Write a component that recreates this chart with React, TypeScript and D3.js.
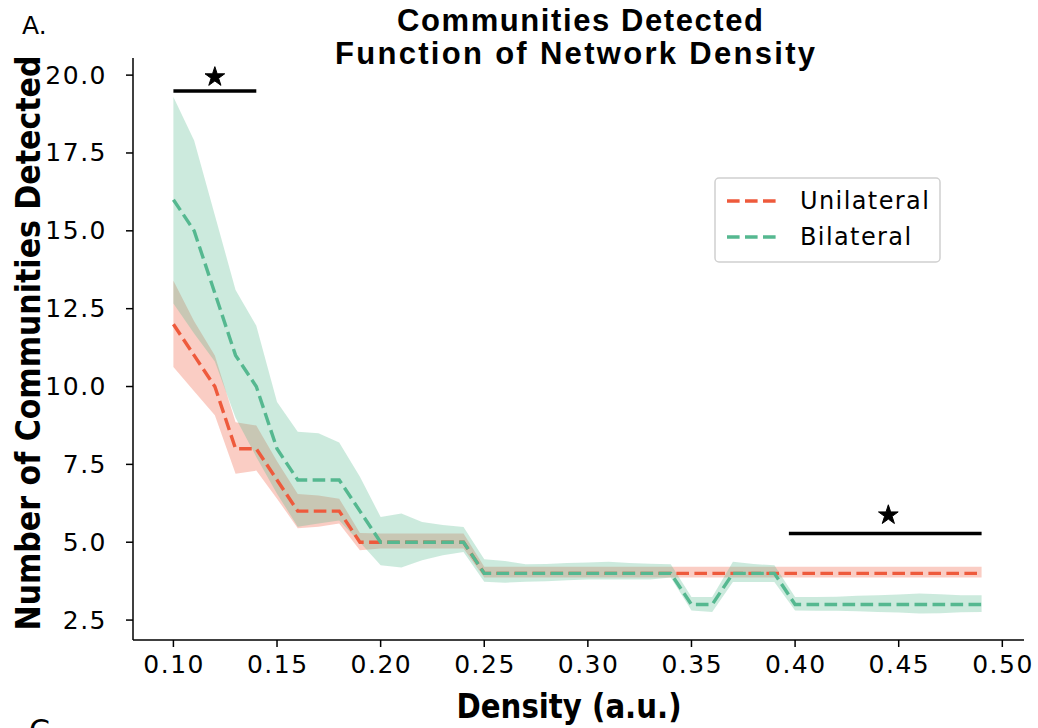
import React from "react";
import * as d3 from "d3";

const density = [0.10,0.11,0.12,0.13,0.14,0.15,0.16,0.17,0.18,0.19,0.20,0.21,0.22,0.23,0.24,0.25,0.26,0.27,0.28,0.29,0.30,0.31,0.32,0.33,0.34,0.35,0.36,0.37,0.38,0.39,0.40,0.41,0.42,0.43,0.44,0.45,0.46,0.47,0.48,0.49];

const uniMean = [12,11,10,8,8,7,6,6,6,5,5,5,5,5,5,4,4,4,4,4,4,4,4,4,4,4,4,4,4,4,4,4,4,4,4,4,4,4,4,4];
const uniUpper = [13.4,12.1,11.0,8.85,8.75,7.6,6.55,6.5,6.4,5.3,5.28,5.28,5.28,5.28,5.28,4.21,4.21,4.21,4.21,4.21,4.21,4.21,4.21,4.21,4.21,4.21,4.21,4.21,4.21,4.21,4.21,4.21,4.21,4.21,4.21,4.21,4.21,4.21,4.21,4.21];
const uniLower = [10.63,9.85,9.08,7.2,7.3,6.4,5.45,5.5,5.6,4.74,4.8,4.8,4.8,4.8,4.8,3.87,3.87,3.87,3.87,3.87,3.87,3.87,3.87,3.87,3.87,3.87,3.87,3.87,3.87,3.87,3.87,3.87,3.87,3.87,3.87,3.87,3.87,3.87,3.87,3.87];

const biMean = [16,15,13,11,10,8,7,7,7,6,5,5,5,5,5,4,4,4,4,4,4,4,4,4,4,3,3,4,4,4,3,3,3,3,3,3,3,3,3,3];
const biUpper = [19.3,17.9,15.5,13.1,11.95,9.5,8.55,8.5,8.2,7.1,5.81,5.92,5.65,5.55,5.49,4.45,4.4,4.29,4.3,4.33,4.35,4.37,4.33,4.31,4.29,3.24,3.24,4.37,4.3,4.26,3.24,3.24,3.25,3.28,3.3,3.32,3.35,3.33,3.3,3.3];
const biLower = [12.67,11.7,10.8,9.0,7.74,6.56,5.5,5.6,5.7,5.0,4.26,4.19,4.42,4.58,4.69,3.73,3.7,3.73,3.75,3.78,3.8,3.8,3.8,3.8,3.87,2.81,2.76,3.72,3.72,3.72,2.81,2.8,2.8,2.78,2.76,2.74,2.71,2.72,2.75,2.76];

const xTicks = [0.10,0.15,0.20,0.25,0.30,0.35,0.40,0.45,0.50];
const yTicks = [2.5,5.0,7.5,10.0,12.5,15.0,17.5,20.0];

const sigBars = [
  { x0: 0.10, x1: 0.14, y: 19.49, star: 0.12, starY: 19.94 },
  { x0: 0.397, x1: 0.49, y: 5.28, star: 0.445, starY: 5.87 },
];

const series = [
  { name: "Unilateral", color: "#ee5a3c", mean: uniMean, upper: uniUpper, lower: uniLower },
  { name: "Bilateral", color: "#55b890", mean: biMean, upper: biUpper, lower: biLower },
];

export default function App() {
  const W = 1038, H = 728;
  const x = d3.scaleLinear().domain([0.0805, 0.5095]).range([133, 1022]);
  const y = d3.scaleLinear().domain([1.86, 20.55]).range([640, 58]);

  const area = (up: number[], lo: number[]) =>
    d3.area<number>()
      .x((_, i) => x(density[i]))
      .y0((_, i) => y(lo[i]))
      .y1((_, i) => y(up[i]))(density as any) as string;

  const line = (m: number[]) =>
    d3.line<number>().x((_, i) => x(density[i])).y((_, i) => y(m[i]))(density as any) as string;

  const star = d3.symbol().type(d3.symbolStar).size(120)() as string;
  const tickFont = "DejaVu Sans, Verdana, sans-serif";
  const boldNarrow = "'Liberation Sans Narrow', 'DejaVu Sans Condensed', Arial, sans-serif";

  return (
    <div style={{ position: "absolute", left: 0, top: 0 }}>
      <svg width={W} height={H} style={{ display: "block", background: "#fff" }}>
        {series.map((s) => (
          <path key={s.name + "f"} d={area(s.upper, s.lower)} fill={s.color} fillOpacity={0.3} stroke="none" />
        ))}
        {series.map((s) => (
          <path key={s.name + "l"} d={line(s.mean)} fill="none" stroke={s.color} strokeWidth={3.4} strokeDasharray="12.6,5.4" />
        ))}

        {sigBars.map((b, i) => (
          <g key={"sig" + i}>
            <line x1={x(b.x0)} x2={x(b.x1)} y1={y(b.y)} y2={y(b.y)} stroke="#000" strokeWidth={3.5} />
            <path d={star} transform={`translate(${x(b.star)},${y(b.starY)})`} fill="#000" stroke="#000" strokeWidth={1} strokeLinejoin="round" />
          </g>
        ))}

        <line x1={133} x2={133} y1={58} y2={640} stroke="#000" strokeWidth={1.5} />
        <line x1={133} x2={1024} y1={640} y2={640} stroke="#000" strokeWidth={1.5} />
        {yTicks.map((t) => (
          <g key={"y" + t}>
            <line x1={126} x2={133} y1={y(t)} y2={y(t)} stroke="#000" strokeWidth={1.5} />
            <text x={107} y={y(t) + 8.5} textAnchor="end" fontFamily={tickFont} fontSize={25} letterSpacing={1.5} fill="#000">
              {t.toFixed(1)}
            </text>
          </g>
        ))}
        {xTicks.map((t) => (
          <g key={"x" + t}>
            <line x1={x(t)} x2={x(t)} y1={640} y2={647} stroke="#000" strokeWidth={1.5} />
            <text x={x(t) + 0.75} y={673} textAnchor="middle" fontFamily={tickFont} fontSize={25} letterSpacing={1.5} fill="#000">
              {t.toFixed(2)}
            </text>
          </g>
        ))}

        <text x={580} y={31} textAnchor="middle" fontFamily="'Liberation Sans', Arial, sans-serif" fontWeight="bold" fontSize={31} textLength={366} lengthAdjust="spacing">Communities Detected</text>
        <text x={575} y={64} textAnchor="middle" fontFamily="'Liberation Sans', Arial, sans-serif" fontWeight="bold" fontSize={31} textLength={480} lengthAdjust="spacing">Function of Network Density</text>
        <text x={22} y={34} fontFamily={tickFont} fontSize={25}>A.</text>
        <text x={29} y={741} fontFamily={tickFont} fontSize={30}>C</text>

        <text transform="translate(40,343) rotate(-90)" textAnchor="middle" fontFamily={boldNarrow} fontWeight="bold" fontSize={34} textLength={575} lengthAdjust="spacingAndGlyphs">Number of Communities Detected</text>
        <text x={569} y={718} textAnchor="middle" fontFamily={boldNarrow} fontWeight="bold" fontSize={34} textLength={225} lengthAdjust="spacingAndGlyphs">Density (a.u.)</text>

        <rect x={715} y={178} width={225} height={84} rx={4} fill="#fff" fillOpacity={0.8} stroke="#d0d0d0" strokeWidth={1.5} />
        {series.map((s, i) => (
          <g key={"lg" + s.name}>
            <line x1={727} x2={781} y1={201 + i * 36} y2={201 + i * 36} stroke={s.color} strokeWidth={3.4} strokeDasharray="12.6,5.4" />
            <text x={800} y={209 + i * 36} fontFamily={tickFont} fontSize={24} letterSpacing={1.4} fill="#000">{s.name}</text>
          </g>
        ))}
      </svg>
    </div>
  );
}
